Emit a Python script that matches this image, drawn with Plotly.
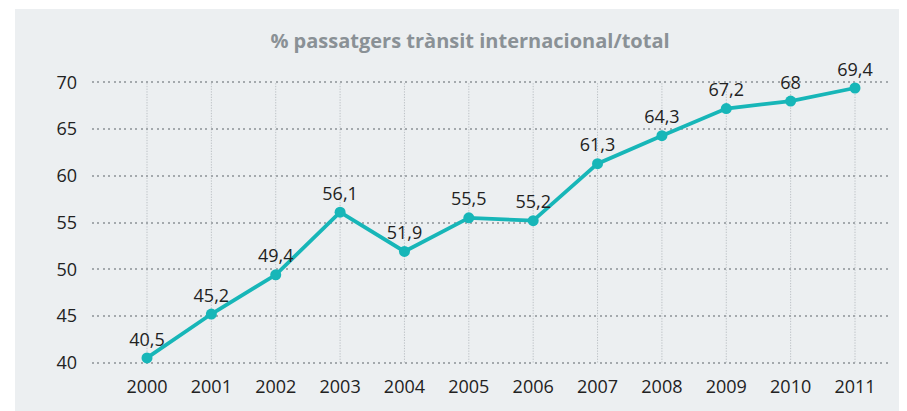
import plotly.graph_objects as go

years = ["2000", "2001", "2002", "2003", "2004", "2005", "2006", "2007", "2008", "2009", "2010", "2011"]
values = [40.5, 45.2, 49.4, 56.1, 51.9, 55.5, 55.2, 61.3, 64.3, 67.2, 68, 69.4]
labels = [f"{v:g}".replace(".", ",") for v in values]
title = "% passatgers trànsit internacional/total"

OFF = 8  # page body margin
W, H = 907 - OFF, 411 - OFF
ppu = (363 - 82) / 30.0
pad = 0.15
L, R = 92 - OFF, 888 - OFF
T = round(82 - pad * ppu) - OFF
B = round(363 + pad * ppu) - OFF
pw, ph = R - L, B - T
X0 = 147 - OFF

fig = go.Figure()
fig.add_trace(go.Scatter(
    x=list(range(len(years))), y=values, mode="lines+markers+text",
    text=labels, textposition="top center",
    textfont=dict(family="Open Sans, Noto Sans, sans-serif", size=18, color="#222222"),
    line=dict(color="#17b6b8", width=3.8),
    marker=dict(color="#17b6b8", size=11),
    cliponaxis=False, showlegend=False,
))

fig.add_shape(type="rect", xref="paper", yref="paper",
              x0=(15 - OFF - L) / pw, x1=(W + 5 - L) / pw,
              y0=(B - H - 5) / ph, y1=(B - (9 - OFF)) / ph,
              fillcolor="#eceff1", line=dict(width=0), layer="below")

sp = (855 - 147) / 11
fig.update_layout(
    width=W, height=H,
    margin=dict(l=L, r=W - R, t=T, b=H - B),
    paper_bgcolor="white", plot_bgcolor="rgba(0,0,0,0)",
    font=dict(family="Open Sans, Noto Sans, sans-serif", color="#222222"),
    title=dict(text=f"<b>{title}</b>", x=(470 - OFF) / W, xanchor="center",
               y=1 - (41 - OFF) / H, yanchor="middle",
               font=dict(size=20, color="#8a9196")),
    xaxis=dict(
        range=[(L - X0) / sp, (R - X0) / sp],
        tickmode="array", tickvals=list(range(len(years))), ticktext=years,
        showgrid=False, zeroline=False, showline=False, ticks="",
        ticklabelstandoff=11 - 1,
        tickfont=dict(size=18, color="#222222"),
    ),
    yaxis=dict(
        range=[40 - pad, 70 + pad], tickvals=[40, 45, 50, 55, 60, 65, 70],
        showgrid=True, gridcolor="#a4a9ad", gridwidth=2, griddash="2px,3.4px",
        zeroline=False, showline=False, ticks="", ticklabelstandoff=14,
        tickfont=dict(size=18, color="#222222"),
    ),
)

# vertical category gridlines spanning 40..70 only
for i in range(len(years)):
    fig.add_shape(type="line", xref="x", yref="y", x0=i, x1=i, y0=40, y1=70,
                  line=dict(color="#bcc1c5", width=1, dash="1.3px,1.4px"),
                  layer="below")

fig.write_html("out.html")
